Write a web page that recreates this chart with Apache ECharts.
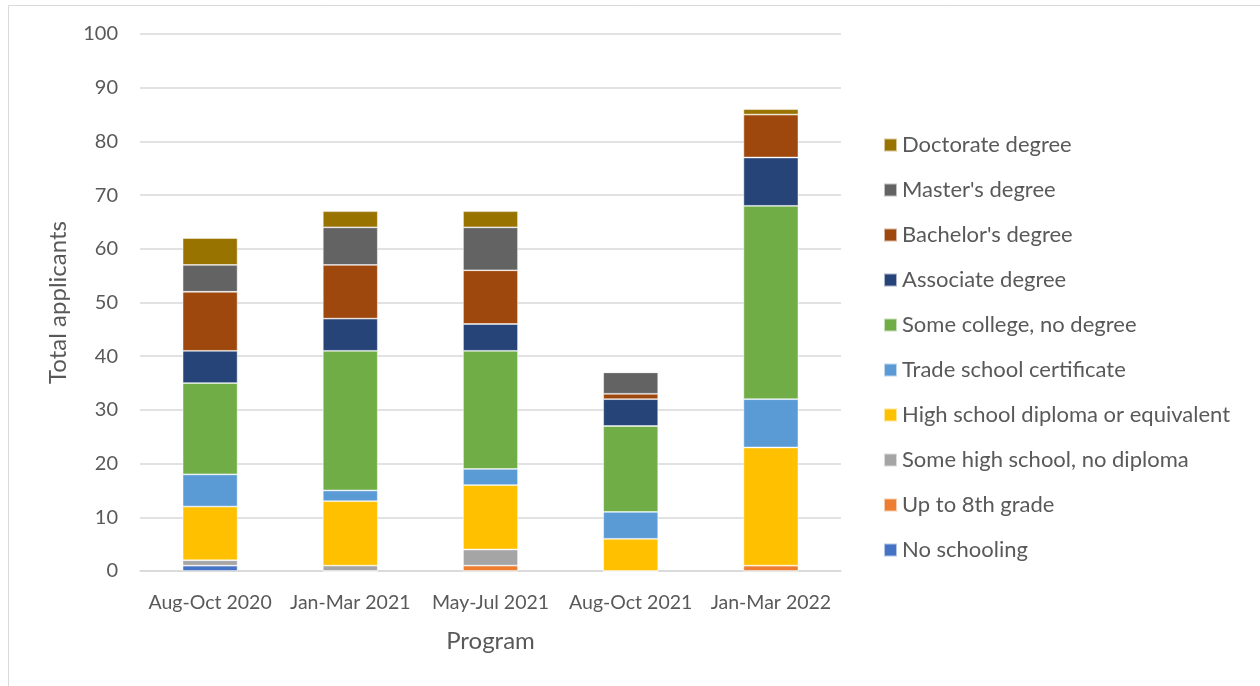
<!DOCTYPE html>
<html>
<head>
<meta charset="utf-8">
<script src="https://cdn.jsdelivr.net/npm/echarts@6/dist/echarts.min.js"></script>
<style>
  html, body { margin: 0; padding: 0; background: #fff; }
  #chart { width: 1260px; height: 686px; }
</style>
</head>
<body>
<div id="chart"></div>
<script>
// Programs (x-axis categories)
const programs = ['Aug-Oct 2020', 'Jan-Mar 2021', 'May-Jul 2021', 'Aug-Oct 2021', 'Jan-Mar 2022'];

// Applicants by highest education level, bottom of stack first
const noSchooling      = [1, 0, 0, 0, 0];
const upTo8th          = [0, 0, 1, 0, 1];
const someHighSchool   = [1, 1, 3, 0, 0];
const highSchool       = [10, 12, 12, 6, 22];
const tradeSchool      = [6, 2, 3, 5, 9];
const someCollege      = [17, 26, 22, 16, 36];
const associate        = [6, 6, 5, 5, 9];
const bachelor         = [11, 10, 10, 1, 8];
const master           = [5, 7, 8, 4, 0];
const doctorate        = [5, 3, 3, 0, 1];

const yTicks = { min: 0, max: 100, interval: 10 };

const seriesDefs = [
  ['No schooling', noSchooling, '#4472C4'],
  ['Up to 8th grade', upTo8th, '#ED7D31'],
  ['Some high school, no diploma', someHighSchool, '#A5A5A5'],
  ['High school diploma or equivalent', highSchool, '#FFC000'],
  ['Trade school certificate', tradeSchool, '#5B9BD5'],
  ['Some college, no degree', someCollege, '#70AD47'],
  ['Associate degree', associate, '#264478'],
  ["Bachelor's degree", bachelor, '#9E480E'],
  ["Master's degree", master, '#636363'],
  ['Doctorate degree', doctorate, '#997300']
];

const font = 'Lato, "Open Sans", sans-serif';
const chart = echarts.init(document.getElementById('chart'), null, { renderer: 'canvas' });

chart.setOption({
  backgroundColor: '#fff',
  animation: false,
  graphic: [{
    type: 'rect',
    shape: { x: 8.5, y: 5.5, width: 1260, height: 700 },
    style: { fill: 'none', stroke: '#d9d9d9', lineWidth: 1 },
    silent: true
  }],
  grid: { left: 140, right: 419, top: 34, bottom: 115 },
  legend: {
    orient: 'vertical',
    left: 878,
    top: 129,
    itemWidth: 13,
    itemHeight: 13,
    itemGap: 23,
    icon: 'rect',
    data: seriesDefs.map(d => d[0]).reverse(),
    textStyle: { fontFamily: font, fontSize: 22, color: '#595959', lineHeight: 22 }
  },
  xAxis: {
    type: 'category',
    data: programs,
    name: 'Program',
    nameLocation: 'middle',
    nameGap: 58,
    nameTextStyle: { fontFamily: font, fontSize: 24, color: '#595959' },
    axisLine: { lineStyle: { color: '#d9d9d9', width: 1.5 } },
    axisTick: { show: false },
    axisLabel: { fontFamily: font, fontSize: 19.5, color: '#595959', margin: 22, interval: 0 }
  },
  yAxis: {
    type: 'value',
    min: yTicks.min,
    max: yTicks.max,
    interval: yTicks.interval,
    name: 'Total applicants',
    nameLocation: 'middle',
    nameGap: 70,
    nameTextStyle: { fontFamily: font, fontSize: 24, color: '#595959' },
    axisLine: { show: false },
    axisTick: { show: false },
    axisLabel: { fontFamily: font, fontSize: 20, color: '#595959', margin: 22 },
    splitLine: { lineStyle: { color: '#d9d9d9', width: 1.5 } }
  },
  series: seriesDefs.map(([name, values, color]) => ({
    name,
    type: 'bar',
    stack: 'total',
    data: values,
    barWidth: 55,
    itemStyle: { color, borderColor: 'rgba(255,255,255,0.6)', borderWidth: 0.8 }
  }))
});
</script>
</body>
</html>
